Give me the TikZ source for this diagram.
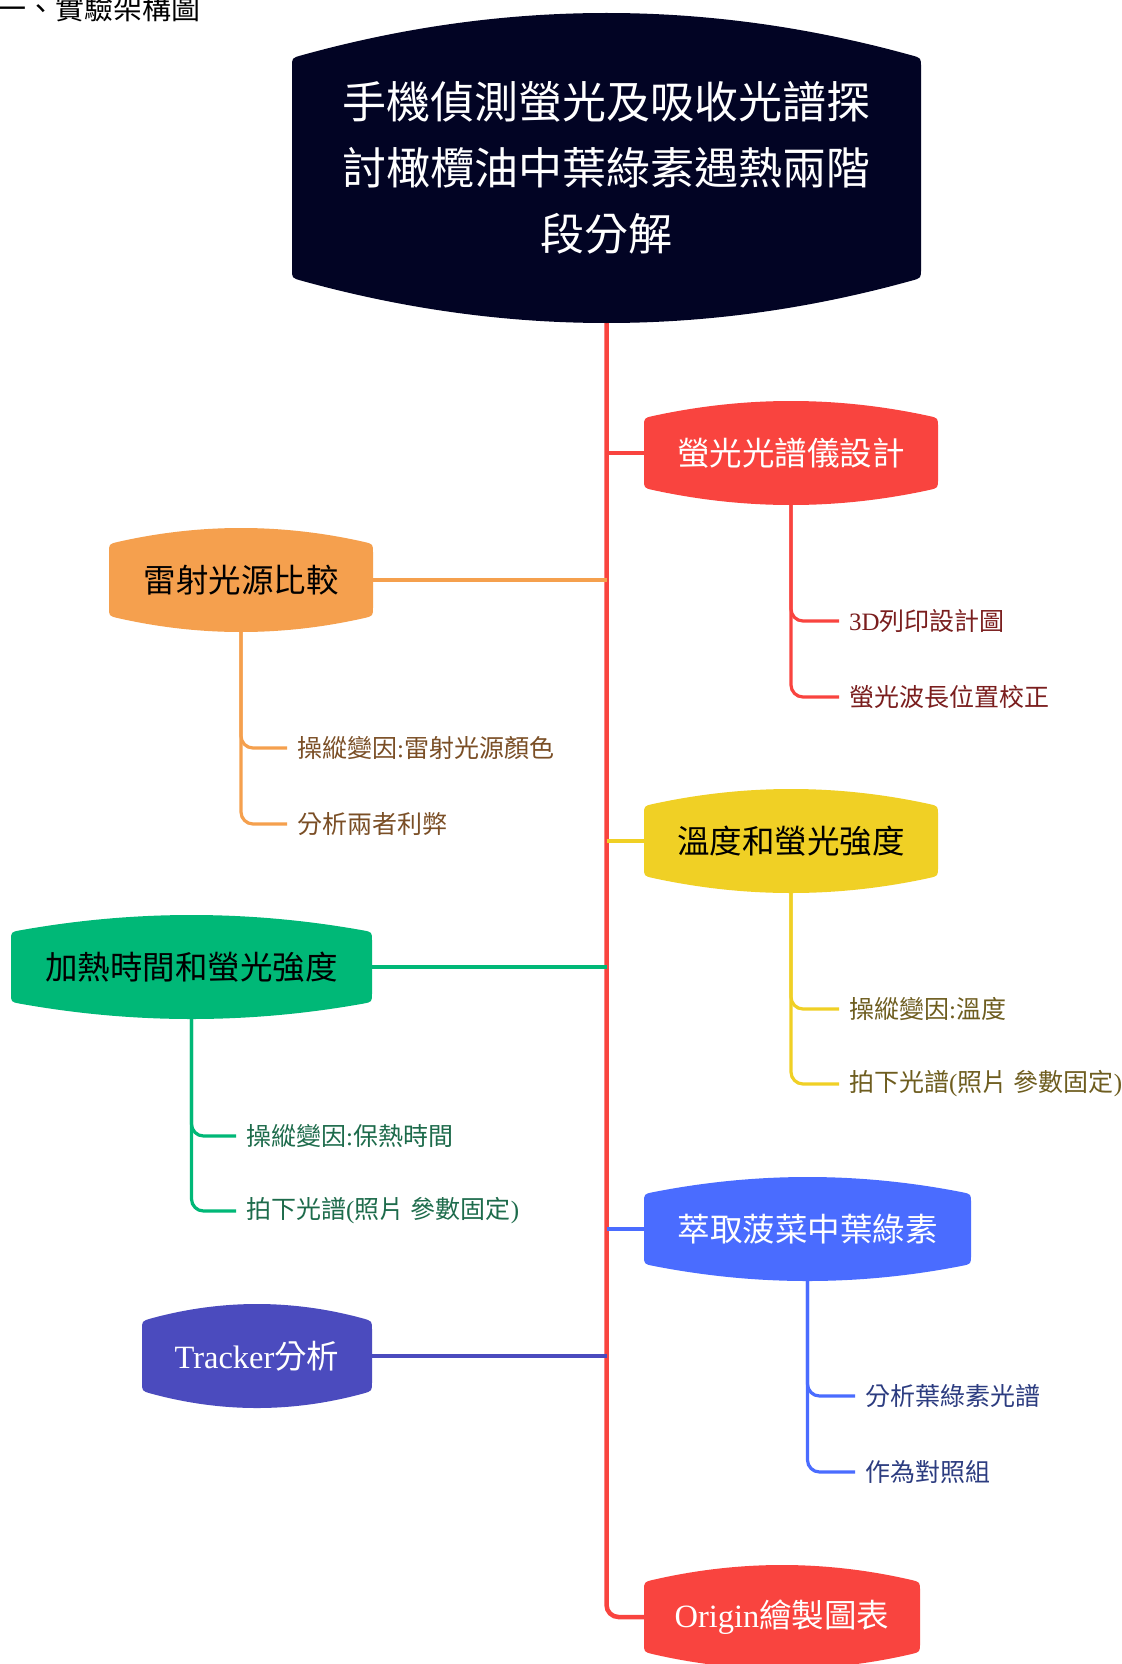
\documentclass[tikz,border=0pt]{standalone}
\usepackage{fontspec}
\setmainfont{Noto Sans CJK TC}
\newfontfamily\lat{Liberation Serif}
\definecolor{ttl}{HTML}{020424}
\definecolor{cred}{HTML}{F9443F}
\definecolor{corange}{HTML}{F5A04E}
\definecolor{cyellow}{HTML}{F0D025}
\definecolor{cgreen}{HTML}{00B877}
\definecolor{cblue}{HTML}{4A6CFF}
\definecolor{cindigo}{HTML}{4B4BBE}
\definecolor{tred}{HTML}{7A1E1E}
\definecolor{torange}{HTML}{7A4E25}
\definecolor{tyellow}{HTML}{6E5D1F}
\definecolor{tgreen}{HTML}{1D6B4B}
\definecolor{tblue}{HTML}{2C3C80}
\pgfdeclarelayer{paper}
\pgfdeclarelayer{links}
\pgfsetlayers{paper,links,main}
\newcommand\bubnode[9]{%
 \pgfmathsetmacro\Bw{#6}%
 \pgfmathsetmacro\Bh{#7}%
 \pgfmathsetmacro\Bb{#8}%
 \pgfmathsetmacro\Br{9}%
 \pgfmathsetmacro\Be{\Bb*(1-((\Bw-\Br)/\Bw)^2)}%
 \pgfmathsetmacro\Bc{\Be+4/3*(\Bb-\Be)}%
 \pgfmathsetmacro\Bx{(\Bw-\Br)/3}%
 \fill[#2] (#4-\Bw,#5-\Bh+\Br) -- (#4-\Bw,#5+\Bh-\Br) .. controls (#4-\Bw,#5+\Bh) .. (#4-\Bw+\Br,#5+\Bh+\Be) .. controls (#4-\Bx,#5+\Bh+\Bc) and (#4+\Bx,#5+\Bh+\Bc) .. (#4+\Bw-\Br,#5+\Bh+\Be) .. controls (#4+\Bw,#5+\Bh) .. (#4+\Bw,#5+\Bh-\Br) -- (#4+\Bw,#5-\Bh+\Br) .. controls (#4+\Bw,#5-\Bh) .. (#4+\Bw-\Br,#5-\Bh-\Be) .. controls (#4+\Bx,#5-\Bh-\Bc) and (#4-\Bx,#5-\Bh-\Bc) .. (#4-\Bw+\Br,#5-\Bh-\Be) .. controls (#4-\Bw,#5-\Bh) .. cycle;
 \node[inner sep=0pt, minimum width=2*\Bw, minimum height=2*\Bh, #3] (#1) at (#4,#5) {#9};
}
\begin{document}
\begin{tikzpicture}[x=1pt,y=-1pt,
  branchtxt/.style={font=\fontsize{32.5}{39}\selectfont},
  subtxt/.style={font=\fontsize{25}{30}\selectfont, anchor=west, inner xsep=10pt, inner ysep=0pt},
  trunkline/.style={line width=4.5pt, cred, rounded corners=12pt},
  branchline/.style={line width=4.2pt},
  subline/.style={line width=3.2pt, rounded corners=12pt}]
\useasboundingbox (0,0) rectangle (1121,1664);
\clip (0,0) rectangle (1121,1664);
\begin{pgfonlayer}{paper}
\fill[white] (0,0) rectangle (1121,1664);
\end{pgfonlayer}

\node[anchor=west, inner sep=0pt, font=\fontsize{29}{34}\selectfont] (cap) at (-3,8) {一、實驗架構圖};

\bubnode{title}{ttl}{text=white,align=center,font=\fontsize{44}{66}\selectfont}{606.5}{168}{314.5}{110}{45}{手機偵測螢光及吸收光譜探\\討橄欖油中葉綠素遇熱兩階\\段分解}
\bubnode{n1}{cred}{text=white,branchtxt}{791}{453}{147}{35}{17}{螢光光譜儀設計}
\bubnode{n2}{corange}{text=black,branchtxt}{241}{580}{132}{36}{16}{雷射光源比較}
\bubnode{n3}{cyellow}{text=black,branchtxt}{791}{841}{147}{35}{17}{溫度和螢光強度}
\bubnode{n4}{cgreen}{text=black,branchtxt}{191.5}{967}{180.5}{35}{17}{加熱時間和螢光強度}
\bubnode{n5}{cblue}{text=white,branchtxt}{807.5}{1229}{163.5}{35}{17}{萃取菠菜中葉綠素}
\bubnode{n6}{cindigo}{text=white,branchtxt}{257}{1356}{115}{35}{17}{{\lat Tracker}分析}
\bubnode{n7}{cred}{text=white,branchtxt}{782}{1617}{138}{35}{17}{{\lat Origin}繪製圖表}

\node[subtxt, text=tred] (s11) at (839,621) {{\lat 3D}列印設計圖};
\node[subtxt, text=tred] (s12) at (839,697) {螢光波長位置校正};
\node[subtxt, text=torange] (s21) at (287,748) {操縱變因{\lat :}雷射光源顏色};
\node[subtxt, text=torange] (s22) at (287,824) {分析兩者利弊};
\node[subtxt, text=tyellow] (s31) at (839,1009) {操縱變因{\lat :}溫度};
\node[subtxt, text=tyellow] (s32) at (839,1084) {拍下光譜{\lat (}照片{\lat\ }參數固定{\lat )}};
\node[subtxt, text=tgreen] (s41) at (236,1136) {操縱變因{\lat :}保熱時間};
\node[subtxt, text=tgreen] (s42) at (236,1211) {拍下光譜{\lat (}照片{\lat\ }參數固定{\lat )}};
\node[subtxt, text=tblue] (s51) at (855,1396) {分析葉綠素光譜};
\node[subtxt, text=tblue] (s52) at (855,1472) {作為對照組};

\begin{pgfonlayer}{links}
\draw[trunkline] (title.south) |- (n7.west);
\draw[branchline, cred] (title.south |- n1.west) -- (n1.west);
\draw[branchline, corange] (n2.east) -- (title.south |- n2.east);
\draw[branchline, cyellow] (title.south |- n3.west) -- (n3.west);
\draw[branchline, cgreen] (n4.east) -- (title.south |- n4.east);
\draw[branchline, cblue] (title.south |- n5.west) -- (n5.west);
\draw[branchline, cindigo] (n6.east) -- (title.south |- n6.east);
\draw[subline, cred] (n1.south) |- (s11.west);
\draw[subline, cred] (n1.south) |- (s12.west);
\draw[subline, corange] (n2.south) |- (s21.west);
\draw[subline, corange] (n2.south) |- (s22.west);
\draw[subline, cyellow] (n3.south) |- (s31.west);
\draw[subline, cyellow] (n3.south) |- (s32.west);
\draw[subline, cgreen] (n4.south) |- (s41.west);
\draw[subline, cgreen] (n4.south) |- (s42.west);
\draw[subline, cblue] (n5.south) |- (s51.west);
\draw[subline, cblue] (n5.south) |- (s52.west);
\end{pgfonlayer}
\end{tikzpicture}
\end{document}
